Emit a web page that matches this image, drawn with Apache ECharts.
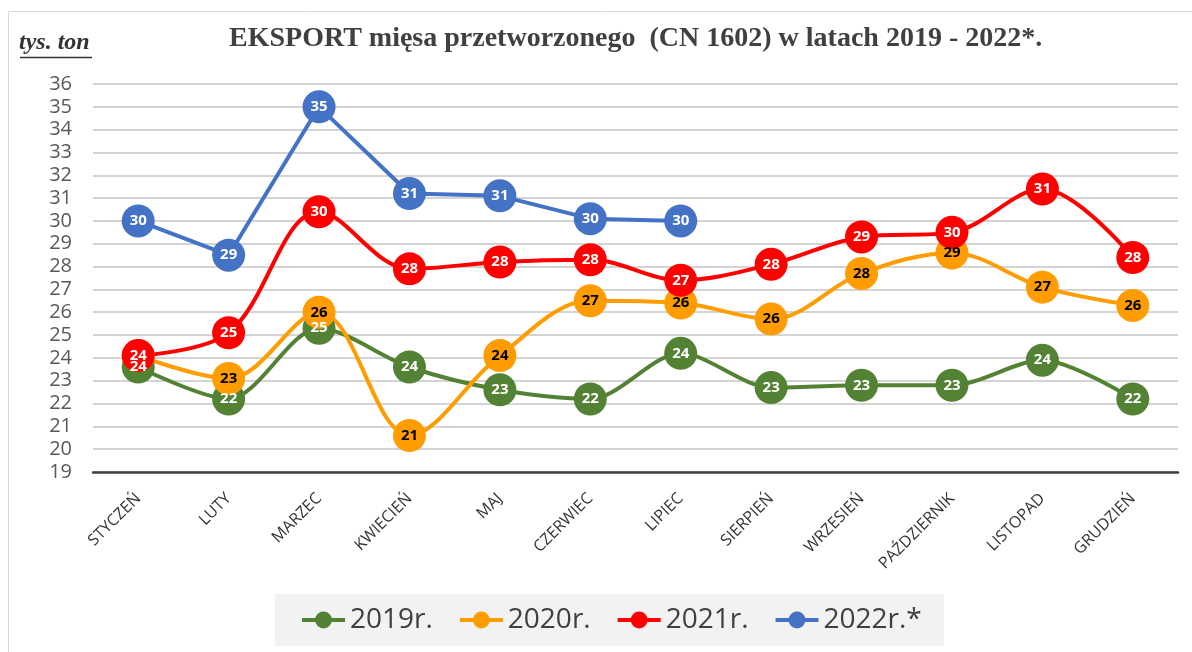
<!DOCTYPE html>
<html lang="pl">
<head>
    <meta charset="UTF-8">
    <title>Eksport mięsa przetworzonego</title>
    <script src="https://cdn.jsdelivr.net/npm/echarts@6/dist/echarts.min.js"></script>
    <style>
        html, body { margin: 0; padding: 0; background: #fff; }
        #main { width: 1192px; height: 652px; }
    </style>
</head>
<body>
<div id="main"></div>
<script>
    // miesiące
    var months = ['STYCZEŃ', 'LUTY', 'MARZEC', 'KWIECIEŃ', 'MAJ', 'CZERWIEC',
        'LIPIEC', 'SIERPIEŃ', 'WRZESIEŃ', 'PAŹDZIERNIK', 'LISTOPAD', 'GRUDZIEŃ'];
    // tys. ton
    var y2019 = [23.6, 22.2, 25.3, 23.6, 22.6, 22.2, 24.2, 22.7, 22.8, 22.8, 23.9, 22.2];
    var y2020 = [24.1, 23.1, 26.0, 20.6, 24.1, 26.5, 26.4, 25.7, 27.7, 28.6, 27.1, 26.3];
    var y2021 = [24.1, 25.1, 30.4, 27.9, 28.2, 28.3, 27.4, 28.1, 29.3, 29.5, 31.4, 28.4];
    var y2022 = [30.0, 28.5, 35.0, 31.2, 31.1, 30.1, 30.0, null, null, null, null, null];
    var legendNames = ['2019r.', '2020r.', '2021r.', '2022r.*'];

    function makeSeries(name, data, color, labelColor, smooth, hideLabelAt) {
        // etykiety ukryte tam, gdzie w oryginale zasłania je inny punkt
        var items = data.map(function (v, i) {
            if (hideLabelAt.indexOf(i) >= 0) {
                return { value: v, label: { show: false } };
            }
            return v;
        });
        return {
            name: name,
            type: 'line',
            data: items,
            smooth: smooth,
            symbol: 'circle',
            symbolSize: 33,
            lineStyle: { color: color, width: 4 },
            itemStyle: { color: color },
            label: {
                show: true,
                position: 'inside',
                color: labelColor,
                fontFamily: 'Open Sans',
                fontWeight: 'bold',
                fontSize: 15,
                formatter: function (p) { return Math.round(p.value); }
            },
            emphasis: { disabled: true }
        };
    }

    var chart = echarts.init(document.getElementById('main'));
    chart.setOption({
        animation: false,
        backgroundColor: '#fff',
        graphic: [
            {
                type: 'rect', silent: true,
                shape: { x: 8.5, y: 11.5, width: 1200, height: 660 },
                style: { fill: 'none', stroke: '#d9d9d9', lineWidth: 1 }
            },
            {
                type: 'text', left: 229, top: 25,
                style: {
                    text: 'EKSPORT mięsa przetworzonego  (CN 1602) w latach 2019 - 2022*.',
                    font: 'bold 28px "Liberation Serif"',
                    fill: '#404040'
                }
            },
            {
                type: 'text', left: 19, top: 31,
                style: {
                    text: 'tys. ton',
                    font: 'italic bold 24px "Liberation Serif"',
                    fill: '#333'
                }
            },
            {
                type: 'line', silent: true,
                shape: { x1: 20, y1: 57.5, x2: 92, y2: 57.5 },
                style: { stroke: '#333', lineWidth: 1.5 }
            }
        ],
        legend: {
            data: legendNames,
            left: 275,
            top: 594,
            padding: [12, 22, 12, 25],
            backgroundColor: '#f2f2f2',
            itemWidth: 43,
            itemHeight: 21,
            itemGap: 25,
            lineStyle: { width: 4 },
            textStyle: { fontFamily: 'Open Sans', fontSize: 28, color: '#404040' }
        },
        grid: { left: 93, right: 14, top: 84, bottom: 180 },
        xAxis: {
            type: 'category',
            data: months,
            boundaryGap: true,
            axisTick: { show: false },
            axisLine: { lineStyle: { color: '#404040', width: 2.5 } },
            axisLabel: {
                interval: 0, rotate: 45, margin: 24,
                fontFamily: 'Open Sans', fontSize: 16, color: '#333'
            }
        },
        yAxis: {
            type: 'value',
            min: 19, max: 36, interval: 1,
            axisLine: { show: false },
            axisTick: { show: false },
            splitLine: { lineStyle: { color: '#d4d4d4', width: 2 } },
            axisLabel: { margin: 21, fontFamily: 'Open Sans', fontSize: 20, color: '#595959' }
        },
        series: [
            makeSeries(legendNames[0], y2019, '#548235', '#fff', 0.3, []),
            makeSeries(legendNames[1], y2020, '#FF9C00', '#000', 0.35, [0]),
            makeSeries(legendNames[2], y2021, '#FF0000', '#fff', 0.35, []),
            makeSeries(legendNames[3], y2022, '#4472C4', '#fff', false, [])
        ]
    });
</script>
</body>
</html>
